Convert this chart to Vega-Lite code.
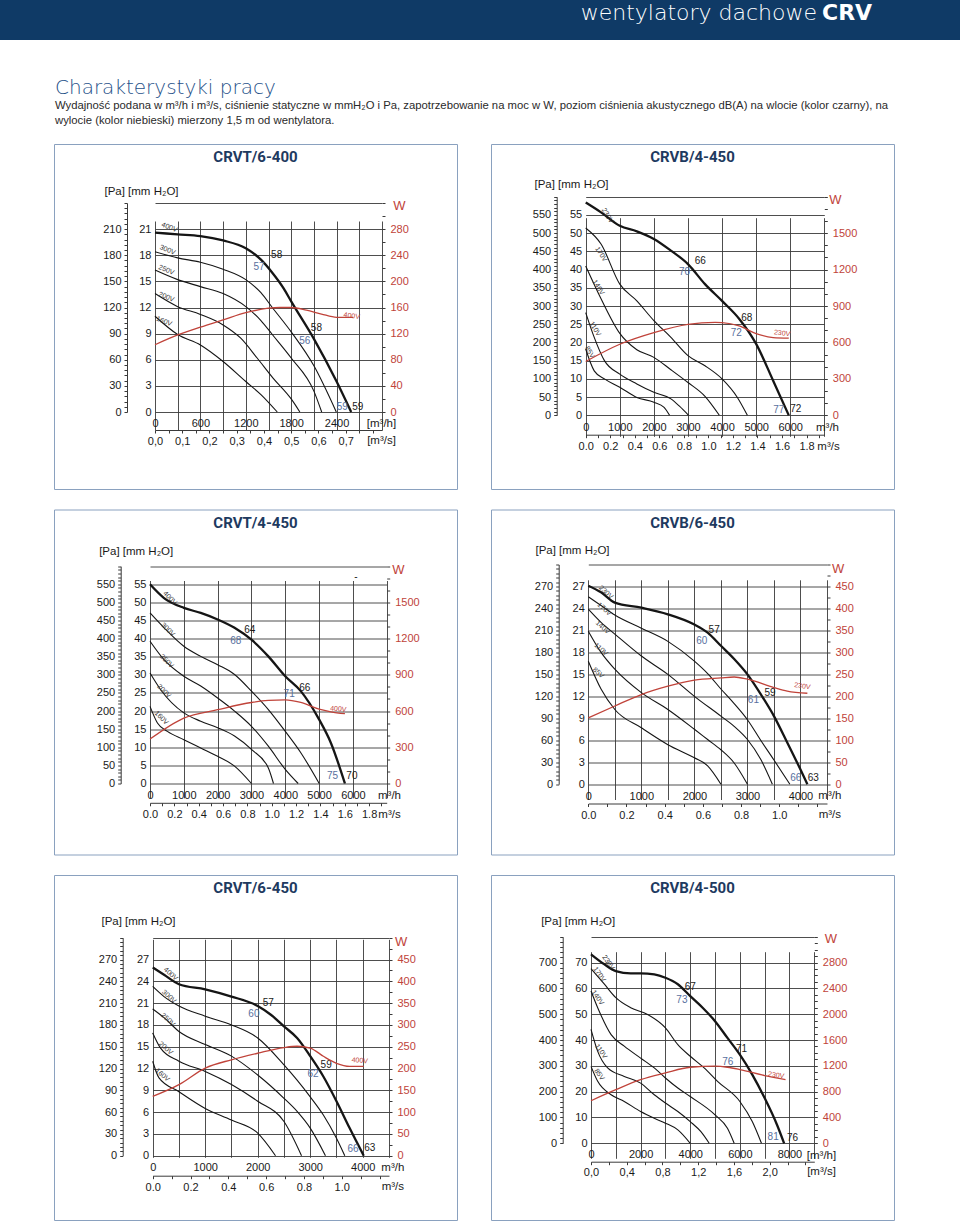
{
"$schema": "https://vega.github.io/schema/vega-lite/v6.json",
"padding": 0,
"background": "white",
"spacing": 0,
"datasets": {
"c1": [
{"q":0,"p":206,"v":"400V"},{"q":300,"p":204,"v":"400V"},{"q":600,"p":202,"v":"400V"},{"q":900,"p":197,"v":"400V"},{"q":1200,"p":188,"v":"400V"},{"q":1400,"p":175,"v":"400V"},{"q":1550,"p":160,"v":"400V"},{"q":1700,"p":142,"v":"400V"},{"q":1800,"p":127,"v":"400V"},{"q":2100,"p":84,"v":"400V"},{"q":2400,"p":35,"v":"400V"},{"q":2593,"p":0,"v":"400V"},
{"q":0,"p":184,"v":"300V"},{"q":300,"p":177,"v":"300V"},{"q":600,"p":172,"v":"300V"},{"q":900,"p":164,"v":"300V"},{"q":1200,"p":152,"v":"300V"},{"q":1400,"p":137,"v":"300V"},{"q":1550,"p":120,"v":"300V"},{"q":1800,"p":92,"v":"300V"},{"q":2100,"p":53,"v":"300V"},{"q":2396,"p":0,"v":"300V"},
{"q":0,"p":163,"v":"250V"},{"q":300,"p":152,"v":"250V"},{"q":600,"p":144,"v":"250V"},{"q":900,"p":136,"v":"250V"},{"q":1200,"p":121,"v":"250V"},{"q":1400,"p":105,"v":"250V"},{"q":1550,"p":89,"v":"250V"},{"q":1800,"p":62,"v":"250V"},{"q":2100,"p":24,"v":"250V"},{"q":2203,"p":0,"v":"250V"},
{"q":0,"p":136,"v":"200V"},{"q":300,"p":121,"v":"200V"},{"q":600,"p":112,"v":"200V"},{"q":900,"p":100,"v":"200V"},{"q":1130,"p":85,"v":"200V"},{"q":1350,"p":62,"v":"200V"},{"q":1560,"p":39,"v":"200V"},{"q":1800,"p":15,"v":"200V"},{"q":1914,"p":0,"v":"200V"},
{"q":0,"p":110,"v":"160V"},{"q":300,"p":89,"v":"160V"},{"q":600,"p":77,"v":"160V"},{"q":900,"p":58,"v":"160V"},{"q":1200,"p":35,"v":"160V"},{"q":1400,"p":20,"v":"160V"},{"q":1616,"p":0,"v":"160V"}
],
"w1": [{"q":0,"w":103},{"q":300,"w":118},{"q":600,"w":130},{"q":900,"w":141},{"q":1200,"w":152},{"q":1500,"w":159},{"q":1650,"w":160},{"q":1800,"w":160},{"q":2000,"w":156},{"q":2200,"w":150},{"q":2400,"w":145},{"q":2620,"w":145}],
"v1": [{"q":190,"p":212,"t":"400V"},{"q":165,"p":186,"t":"300V"},{"q":150,"p":163,"t":"250V"},{"q":150,"p":132,"t":"200V"},{"q":120,"p":104,"t":"160V"}],
"l1": [{"q":1608,"p":180,"t":"58","k":"in"},{"q":1375,"p":166,"t":"57","k":"out"},{"q":2133,"p":97,"t":"58","k":"in"},{"q":1980,"p":82,"t":"56","k":"out"},{"q":2475,"p":6,"t":"59","k":"out"},{"q":2680,"p":6,"t":"59","k":"in"}],
"r1": [{"q":2600,"w":147,"t":"400V"}],
"c2": [
{"q":0,"p":584,"v":"230V"},{"q":450,"p":557,"v":"230V"},{"q":1000,"p":520,"v":"230V"},{"q":1500,"p":505,"v":"230V"},{"q":2000,"p":484,"v":"230V"},{"q":2500,"p":452,"v":"230V"},{"q":3000,"p":415,"v":"230V"},{"q":3500,"p":360,"v":"230V"},{"q":4000,"p":314,"v":"230V"},{"q":4500,"p":265,"v":"230V"},{"q":5000,"p":196,"v":"230V"},{"q":5500,"p":95,"v":"230V"},{"q":5958,"p":0,"v":"230V"},
{"q":0,"p":514,"v":"170V"},{"q":450,"p":470,"v":"170V"},{"q":1000,"p":360,"v":"170V"},{"q":1500,"p":314,"v":"170V"},{"q":2000,"p":260,"v":"170V"},{"q":2500,"p":214,"v":"170V"},{"q":3000,"p":164,"v":"170V"},{"q":3500,"p":136,"v":"170V"},{"q":4000,"p":100,"v":"170V"},{"q":4450,"p":49,"v":"170V"},{"q":4743,"p":0,"v":"170V"},
{"q":0,"p":410,"v":"140V"},{"q":450,"p":320,"v":"140V"},{"q":1000,"p":225,"v":"140V"},{"q":1500,"p":180,"v":"140V"},{"q":2000,"p":159,"v":"140V"},{"q":2500,"p":125,"v":"140V"},{"q":3000,"p":90,"v":"140V"},{"q":3500,"p":52,"v":"140V"},{"q":3920,"p":0,"v":"140V"},
{"q":0,"p":282,"v":"110V"},{"q":250,"p":214,"v":"110V"},{"q":550,"p":150,"v":"110V"},{"q":1000,"p":113,"v":"110V"},{"q":1500,"p":86,"v":"110V"},{"q":2000,"p":63,"v":"110V"},{"q":2500,"p":45,"v":"110V"},{"q":2750,"p":25,"v":"110V"},{"q":3018,"p":0,"v":"110V"},
{"q":0,"p":182,"v":"85V"},{"q":250,"p":122,"v":"85V"},{"q":550,"p":100,"v":"85V"},{"q":1000,"p":77,"v":"85V"},{"q":1500,"p":49,"v":"85V"},{"q":2000,"p":36,"v":"85V"},{"q":2300,"p":22,"v":"85V"},{"q":2460,"p":0,"v":"85V"}
],
"w2": [{"q":0,"w":443},{"q":1000,"w":585},{"q":2000,"w":681},{"q":3000,"w":749},{"q":3800,"w":765},{"q":4000,"w":763},{"q":4500,"w":736},{"q":5000,"w":673},{"q":5500,"w":640},{"q":5958,"w":635}],
"v2": [{"q":640,"p":548,"t":"230V"},{"q":451,"p":442,"t":"170V"},{"q":372,"p":351,"t":"140V"},{"q":274,"p":237,"t":"110V"},{"q":118,"p":173,"t":"85V"}],
"l2": [{"q":3361,"p":424,"t":"66","k":"in"},{"q":2901,"p":392,"t":"70","k":"out"},{"q":4724,"p":266,"t":"68","k":"in"},{"q":4420,"p":225,"t":"72","k":"out"},{"q":5664,"p":15,"t":"77","k":"out"},{"q":6164,"p":16,"t":"72","k":"in"}],
"r2": [{"q":5762,"w":675,"t":"230V"}],
"c3": [
{"q":0,"p":550,"v":"400V"},{"q":415,"p":512,"v":"400V"},{"q":1000,"p":485,"v":"400V"},{"q":1500,"p":471,"v":"400V"},{"q":2000,"p":453,"v":"400V"},{"q":2500,"p":430,"v":"400V"},{"q":3000,"p":397,"v":"400V"},{"q":3500,"p":351,"v":"400V"},{"q":4000,"p":296,"v":"400V"},{"q":4460,"p":255,"v":"400V"},{"q":5000,"p":177,"v":"400V"},{"q":5350,"p":112,"v":"400V"},{"q":5764,"p":0,"v":"400V"},
{"q":0,"p":471,"v":"300V"},{"q":415,"p":430,"v":"300V"},{"q":1000,"p":379,"v":"300V"},{"q":1500,"p":351,"v":"300V"},{"q":2000,"p":328,"v":"300V"},{"q":2500,"p":301,"v":"300V"},{"q":3000,"p":255,"v":"300V"},{"q":3500,"p":204,"v":"300V"},{"q":4000,"p":144,"v":"300V"},{"q":4460,"p":85,"v":"300V"},{"q":5004,"p":0,"v":"300V"},
{"q":0,"p":393,"v":"250V"},{"q":415,"p":342,"v":"250V"},{"q":1000,"p":296,"v":"250V"},{"q":1500,"p":269,"v":"250V"},{"q":2000,"p":236,"v":"250V"},{"q":2500,"p":200,"v":"250V"},{"q":3000,"p":158,"v":"250V"},{"q":3500,"p":103,"v":"250V"},{"q":4000,"p":39,"v":"250V"},{"q":4382,"p":0,"v":"250V"},
{"q":0,"p":305,"v":"200V"},{"q":315,"p":259,"v":"200V"},{"q":1000,"p":195,"v":"200V"},{"q":1500,"p":172,"v":"200V"},{"q":2000,"p":154,"v":"200V"},{"q":2500,"p":131,"v":"200V"},{"q":3000,"p":94,"v":"200V"},{"q":3500,"p":43,"v":"200V"},{"q":3652,"p":0,"v":"200V"},
{"q":0,"p":213,"v":"160V"},{"q":220,"p":167,"v":"160V"},{"q":515,"p":144,"v":"160V"},{"q":1000,"p":121,"v":"160V"},{"q":1500,"p":98,"v":"160V"},{"q":2000,"p":75,"v":"160V"},{"q":2500,"p":48,"v":"160V"},{"q":3000,"p":0,"v":"160V"}
],
"w3": [{"q":0,"w":368},{"q":1000,"w":542},{"q":2000,"w":611},{"q":3000,"w":671},{"q":3500,"w":688},{"q":4000,"w":693},{"q":4460,"w":671},{"q":5000,"w":616},{"q":5350,"w":594},{"q":5764,"w":578}],
"v3": [{"q":592,"p":512,"t":"400V"},{"q":533,"p":425,"t":"300V"},{"q":494,"p":338,"t":"250V"},{"q":415,"p":255,"t":"200V"},{"q":336,"p":181,"t":"160V"}],
"l3": [{"q":2951,"p":423,"t":"64","k":"in"},{"q":2537,"p":393,"t":"68","k":"out"},{"q":4580,"p":264,"t":"66","k":"in"},{"q":4116,"p":247,"t":"71","k":"out"},{"q":5399,"p":20,"t":"75","k":"out"},{"q":5971,"p":20,"t":"70","k":"in"},{"q":6090,"p":569,"t":"-","k":"in"}],
"r3": [{"q":5567,"w":616,"t":"400V"}],
"c4": [
{"q":0,"p":271,"v":"230V"},{"q":240,"p":262,"v":"230V"},{"q":500,"p":248,"v":"230V"},{"q":1000,"p":241,"v":"230V"},{"q":1500,"p":232,"v":"230V"},{"q":2000,"p":218,"v":"230V"},{"q":2250,"p":207,"v":"230V"},{"q":2500,"p":189,"v":"230V"},{"q":2750,"p":171,"v":"230V"},{"q":3000,"p":150,"v":"230V"},{"q":3250,"p":123,"v":"230V"},{"q":3500,"p":93,"v":"230V"},{"q":3750,"p":57,"v":"230V"},{"q":4000,"p":20,"v":"230V"},{"q":4130,"p":0,"v":"230V"},
{"q":0,"p":256,"v":"170V"},{"q":240,"p":244,"v":"170V"},{"q":500,"p":231,"v":"170V"},{"q":1000,"p":213,"v":"170V"},{"q":1500,"p":195,"v":"170V"},{"q":2000,"p":168,"v":"170V"},{"q":2250,"p":151,"v":"170V"},{"q":2500,"p":130,"v":"170V"},{"q":2750,"p":110,"v":"170V"},{"q":3000,"p":88,"v":"170V"},{"q":3250,"p":60,"v":"170V"},{"q":3500,"p":33,"v":"170V"},{"q":3800,"p":0,"v":"170V"},
{"q":0,"p":239,"v":"140V"},{"q":240,"p":221,"v":"140V"},{"q":500,"p":205,"v":"140V"},{"q":1000,"p":175,"v":"140V"},{"q":1500,"p":150,"v":"140V"},{"q":2000,"p":120,"v":"140V"},{"q":2500,"p":93,"v":"140V"},{"q":2750,"p":79,"v":"140V"},{"q":3000,"p":61,"v":"140V"},{"q":3250,"p":34,"v":"140V"},{"q":3470,"p":0,"v":"140V"},
{"q":0,"p":209,"v":"110V"},{"q":240,"p":180,"v":"110V"},{"q":500,"p":157,"v":"110V"},{"q":1000,"p":125,"v":"110V"},{"q":1500,"p":102,"v":"110V"},{"q":2000,"p":75,"v":"110V"},{"q":2250,"p":61,"v":"110V"},{"q":2500,"p":47,"v":"110V"},{"q":2750,"p":29,"v":"110V"},{"q":3000,"p":0,"v":"110V"},
{"q":0,"p":168,"v":"85V"},{"q":240,"p":130,"v":"85V"},{"q":500,"p":102,"v":"85V"},{"q":1000,"p":77,"v":"85V"},{"q":1500,"p":54,"v":"85V"},{"q":2000,"p":36,"v":"85V"},{"q":2250,"p":25,"v":"85V"},{"q":2500,"p":0,"v":"85V"}
],
"w4": [{"q":0,"w":151},{"q":500,"w":178},{"q":1000,"w":204},{"q":1500,"w":223},{"q":2000,"w":237},{"q":2500,"w":242},{"q":2750,"w":244},{"q":3000,"w":239},{"q":3500,"w":220},{"q":3750,"w":212},{"q":4130,"w":207}],
"v4": [{"q":333,"p":262,"t":"230V"},{"q":301,"p":239,"t":"170V"},{"q":270,"p":214,"t":"140V"},{"q":239,"p":184,"t":"110V"},{"q":188,"p":152,"t":"85V"}],
"l4": [{"q":2373,"p":211,"t":"57","k":"in"},{"q":2140,"p":196,"t":"60","k":"out"},{"q":3427,"p":125,"t":"59","k":"in"},{"q":3113,"p":115,"t":"61","k":"out"},{"q":3910,"p":9,"t":"66","k":"out"},{"q":4243,"p":9,"t":"63","k":"in"}],
"r4": [{"q":4036,"w":223,"t":"230V"}],
"c5": [
{"q":0,"p":259,"v":"400V"},{"q":216,"p":249,"v":"400V"},{"q":500,"p":236,"v":"400V"},{"q":1000,"p":229,"v":"400V"},{"q":1500,"p":219,"v":"400V"},{"q":2000,"p":206,"v":"400V"},{"q":2250,"p":194,"v":"400V"},{"q":2500,"p":178,"v":"400V"},{"q":2750,"p":162,"v":"400V"},{"q":3000,"p":137,"v":"400V"},{"q":3250,"p":109,"v":"400V"},{"q":3500,"p":75,"v":"400V"},{"q":3750,"p":38,"v":"400V"},{"q":4019,"p":0,"v":"400V"},
{"q":0,"p":233,"v":"300V"},{"q":216,"p":219,"v":"300V"},{"q":500,"p":206,"v":"300V"},{"q":1000,"p":192,"v":"300V"},{"q":1500,"p":180,"v":"300V"},{"q":2000,"p":162,"v":"300V"},{"q":2500,"p":125,"v":"300V"},{"q":2750,"p":104,"v":"300V"},{"q":3000,"p":81,"v":"300V"},{"q":3250,"p":56,"v":"300V"},{"q":3500,"p":24,"v":"300V"},{"q":3658,"p":0,"v":"300V"},
{"q":0,"p":202,"v":"250V"},{"q":216,"p":190,"v":"250V"},{"q":500,"p":171,"v":"250V"},{"q":1000,"p":153,"v":"250V"},{"q":1500,"p":137,"v":"250V"},{"q":2000,"p":111,"v":"250V"},{"q":2500,"p":79,"v":"250V"},{"q":2750,"p":61,"v":"250V"},{"q":3000,"p":38,"v":"250V"},{"q":3290,"p":0,"v":"250V"},
{"q":0,"p":169,"v":"200V"},{"q":150,"p":148,"v":"200V"},{"q":500,"p":130,"v":"200V"},{"q":1000,"p":116,"v":"200V"},{"q":1500,"p":98,"v":"200V"},{"q":2000,"p":75,"v":"200V"},{"q":2500,"p":47,"v":"200V"},{"q":2834,"p":0,"v":"200V"},
{"q":0,"p":130,"v":"160V"},{"q":120,"p":107,"v":"160V"},{"q":500,"p":88,"v":"160V"},{"q":1000,"p":65,"v":"160V"},{"q":1500,"p":49,"v":"160V"},{"q":2000,"p":31,"v":"160V"},{"q":2339,"p":0,"v":"160V"}
],
"w5": [{"q":0,"w":136},{"q":500,"w":163},{"q":1000,"w":201},{"q":1500,"w":220},{"q":2000,"w":235},{"q":2500,"w":248},{"q":2750,"w":251},{"q":3000,"w":247},{"q":3250,"w":228},{"q":3500,"w":212},{"q":3750,"w":205},{"q":4019,"w":205}],
"v5": [{"q":342,"p":250,"t":"400V"},{"q":311,"p":219,"t":"300V"},{"q":292,"p":187,"t":"250V"},{"q":247,"p":148,"t":"200V"},{"q":184,"p":111,"t":"160V"}],
"l5": [{"q":2200,"p":210,"t":"57","k":"in"},{"q":1927,"p":195,"t":"60","k":"out"},{"q":3303,"p":125,"t":"59","k":"in"},{"q":3055,"p":112,"t":"62","k":"out"},{"q":3816,"p":9,"t":"66","k":"out"},{"q":4133,"p":10,"t":"63","k":"in"}],
"r5": [{"q":3943,"w":218,"t":"400V"}],
"c6": [
{"q":0,"p":732,"v":"230V"},{"q":540,"p":693,"v":"230V"},{"q":1000,"p":667,"v":"230V"},{"q":1600,"p":658,"v":"230V"},{"q":2000,"p":658,"v":"230V"},{"q":2550,"p":654,"v":"230V"},{"q":3000,"p":641,"v":"230V"},{"q":3500,"p":616,"v":"230V"},{"q":4000,"p":570,"v":"230V"},{"q":4500,"p":525,"v":"230V"},{"q":5000,"p":473,"v":"230V"},{"q":5500,"p":408,"v":"230V"},{"q":6000,"p":343,"v":"230V"},{"q":6500,"p":266,"v":"230V"},{"q":7000,"p":175,"v":"230V"},{"q":7500,"p":71,"v":"230V"},{"q":7784,"p":0,"v":"230V"},
{"q":0,"p":676,"v":"170V"},{"q":540,"p":616,"v":"170V"},{"q":1000,"p":564,"v":"170V"},{"q":1600,"p":525,"v":"170V"},{"q":2280,"p":499,"v":"170V"},{"q":3000,"p":447,"v":"170V"},{"q":3500,"p":382,"v":"170V"},{"q":4000,"p":337,"v":"170V"},{"q":4560,"p":292,"v":"170V"},{"q":5100,"p":240,"v":"170V"},{"q":6000,"p":162,"v":"170V"},{"q":6500,"p":84,"v":"170V"},{"q":6870,"p":0,"v":"170V"},
{"q":0,"p":590,"v":"140V"},{"q":270,"p":525,"v":"140V"},{"q":810,"p":421,"v":"140V"},{"q":1340,"p":376,"v":"140V"},{"q":2000,"p":330,"v":"140V"},{"q":2550,"p":292,"v":"140V"},{"q":3000,"p":253,"v":"140V"},{"q":3500,"p":214,"v":"140V"},{"q":4000,"p":181,"v":"140V"},{"q":5000,"p":110,"v":"140V"},{"q":5500,"p":58,"v":"140V"},{"q":5770,"p":0,"v":"140V"},
{"q":0,"p":441,"v":"110V"},{"q":270,"p":356,"v":"110V"},{"q":670,"p":292,"v":"110V"},{"q":1340,"p":259,"v":"110V"},{"q":2000,"p":233,"v":"110V"},{"q":2550,"p":188,"v":"110V"},{"q":3000,"p":156,"v":"110V"},{"q":3500,"p":123,"v":"110V"},{"q":4000,"p":84,"v":"110V"},{"q":4430,"p":45,"v":"110V"},{"q":4764,"p":0,"v":"110V"},
{"q":0,"p":298,"v":"85V"},{"q":270,"p":240,"v":"85V"},{"q":810,"p":188,"v":"85V"},{"q":1340,"p":162,"v":"85V"},{"q":2000,"p":123,"v":"85V"},{"q":2550,"p":97,"v":"85V"},{"q":3000,"p":78,"v":"85V"},{"q":3500,"p":52,"v":"85V"},{"q":4000,"p":0,"v":"85V"}
],
"w6": [{"q":0,"w":659},{"q":1000,"w":830},{"q":2000,"w":986},{"q":3000,"w":1090},{"q":4000,"w":1178},{"q":5000,"w":1194},{"q":5500,"w":1178},{"q":6000,"w":1142},{"q":7000,"w":1048},{"q":7840,"w":986}],
"v6": [{"q":698,"p":700,"t":"230V"},{"q":336,"p":654,"t":"170V"},{"q":268,"p":564,"t":"140V"},{"q":403,"p":356,"t":"110V"},{"q":336,"p":266,"t":"85V"}],
"l6": [{"q":4000,"p":605,"t":"67","k":"in"},{"q":3664,"p":555,"t":"73","k":"out"},{"q":6066,"p":365,"t":"71","k":"in"},{"q":5516,"p":315,"t":"76","k":"out"},{"q":7341,"p":23,"t":"81","k":"out"},{"q":8119,"p":19,"t":"76","k":"in"}],
"r6": [{"q":7462,"w":1054,"t":"230V"}]
},
"vconcat": [
{"hconcat": [
  {"width": 820, "height": 40, "view": {"fill": "#0f3a66", "stroke": null},
   "title": {"text": "wentylatory dachowe", "anchor": "end", "dx": -3, "dy": 28.5, "font": "DejaVu Sans", "fontSize": 22, "fontWeight": 300, "color": "#ffffff"},
   "data": {"values": [{}]}, "mark": {"type": "point", "opacity": 0}},
  {"width": 140, "height": 40, "view": {"fill": "#0f3a66", "stroke": null},
   "title": {"text": "CRV", "anchor": "start", "dx": 2, "dy": 28.5, "font": "DejaVu Sans", "fontSize": 22, "fontWeight": "bold", "color": "#ffffff"},
   "data": {"values": [{}]}, "mark": {"type": "point", "opacity": 0}}
 ], "spacing": 0},
{"width": 960, "height": 102.5,
 "title": {"text": "Charakterystyki pracy", "subtitle": ["Wydajność podana w m³/h i m³/s, ciśnienie statyczne w mmH₂O i Pa, zapotrzebowanie na  moc w W, poziom ciśnienia akustycznego dB(A) na wlocie (kolor czarny), na", "wylocie (kolor niebieski) mierzony 1,5 m od wentylatora."],
   "anchor": "start", "dx": 55, "dy": 90.6, "font": "DejaVu Sans", "fontSize": 20, "fontWeight": 300, "color": "#1f5189",
   "subtitleFont": "Liberation Sans", "subtitleFontSize": 11.3, "subtitleColor": "#2a2a2a", "subtitleLineHeight": 15.5, "subtitlePadding": 1.9},
 "data": {"values": [{}]}, "mark": {"type": "point", "opacity": 0}},
{"vconcat": [
 {"hconcat": [
  {"width": 21, "height": 345, "data": {"values": [{}]}, "mark": {"type": "point", "opacity": 0}},
  {"width": 403, "height": 345, "view": {"stroke": "#8aa1bf"},
   "title": {"text": "CRVT/6-400", "dy": 25},
   "resolve": {"scale": {"y": "independent"}, "axis": {"x": "independent", "y": "independent"}},
   "layer": [
    {"data": {"name": "c1"}, "mark": {"type": "line", "interpolate": "monotone", "color": "#151515"},
     "encoding": {
      "x": {"field": "q", "type": "quantitative", "scale": {"domain": [0, 3000], "range": [101, 328], "nice": false, "zero": false},
        "axis": {"orient": "bottom", "offset": -77, "grid": true, "values": [0,300,600,900,1200,1500,1800,2100,2400,2700,3000], "labelExpr": "datum.value % 600 == 0 && datum.value <= 2400 ? format(datum.value, 'd') : ''", "title": "[m³/h]", "titleX": 327, "titleY": 11.5, "labelPadding": 5}},
      "y": {"field": "p", "type": "quantitative", "scale": {"domain": [0, 240], "range": [268, 59], "nice": false, "zero": false},
        "axis": {"orient": "left", "offset": -101, "grid": true, "values": [0,30,60,90,120,150,180,210,240], "labelExpr": "datum.value <= 210 ? format(datum.value / 10, 'd') : ''", "title": null}},
      "detail": {"field": "v"},
      "strokeWidth": {"condition": {"test": "datum.v == '400V'", "value": 2.3}, "value": 1.1}}},
    {"data": {"name": "v1"}, "mark": {"type": "text", "fontSize": 7, "angle": 22, "color": "#333"},
     "encoding": {
      "x": {"field": "q", "type": "quantitative", "scale": {"domain": [0, 3000], "range": [101, 328], "nice": false, "zero": false},
        "axis": {"orient": "bottom", "offset": -59, "domain": true, "ticks": true, "values": [0,180,360,540,720,900,1080,1260,1440,1620,1800,1980,2160,2340,2520,2700,2880], "labelExpr": "datum.value % 360 == 0 && datum.value <= 2520 ? replace(format(datum.value / 3600, '.1f'), '.', ',') : ''", "labelPadding": 2, "title": "[m³/s]", "titleX": 327, "titleY": 10}},
      "y": {"field": "p", "type": "quantitative", "scale": {"domain": [0, 240], "range": [268, 59], "nice": false, "zero": false},
        "axis": {"orient": "left", "offset": -73, "domain": true, "ticks": true, "values": [0,6,12,18,24,30,36,42,48,54,60,66,72,78,84,90,96,102,108,114,120,126,132,138,144,150,156,162,168,174,180,186,192,198,204,210,216,222,228,234,240], "labelExpr": "datum.value % 30 == 0 && datum.value <= 210 ? format(datum.value, 'd') : ''", "labelPadding": 3, "title": "[Pa] [mm H₂O]", "titleX": 14, "titleY": 47}},
      "text": {"field": "t"}}},
    {"data": {"name": "l1"}, "mark": {"type": "text", "fontSize": 10},
     "encoding": {
      "x": {"field": "q", "type": "quantitative", "scale": {"domain": [0, 3000], "range": [101, 328], "nice": false, "zero": false}, "axis": null},
      "y": {"field": "p", "type": "quantitative", "scale": {"domain": [0, 240], "range": [268, 59], "nice": false, "zero": false}, "axis": null},
      "text": {"field": "t"},
      "color": {"field": "k", "type": "nominal", "scale": {"domain": ["in", "out"], "range": ["#1a1a1a", "#58709e"]}, "legend": null}}},
    {"data": {"name": "w1"}, "mark": {"type": "line", "interpolate": "monotone", "color": "#c0433a", "strokeWidth": 1.3},
     "encoding": {
      "x": {"field": "q", "type": "quantitative", "scale": {"domain": [0, 3000], "range": [101, 328], "nice": false, "zero": false}, "axis": null},
      "y": {"field": "w", "type": "quantitative", "scale": {"domain": [0, 320], "range": [268, 59], "nice": false, "zero": false},
        "axis": {"orient": "right", "offset": -75, "ticks": true, "values": [0,20,40,60,80,100,120,140,160,180,200,220,240,260,280,300,320], "labelExpr": "datum.value % 40 == 0 && datum.value <= 280 ? format(datum.value, 'd') : ''", "labelColor": "#c0433a", "labelPadding": 5, "title": "W", "titleX": 17, "titleY": 61, "titleColor": "#c0433a", "titleFontSize": 13}}}},
    {"data": {"name": "r1"}, "mark": {"type": "text", "fontSize": 7, "angle": 8, "color": "#c0433a"},
     "encoding": {
      "x": {"field": "q", "type": "quantitative", "scale": {"domain": [0, 3000], "range": [101, 328], "nice": false, "zero": false}, "axis": null},
      "y": {"field": "w", "type": "quantitative", "scale": {"domain": [0, 320], "range": [268, 59], "nice": false, "zero": false}, "axis": null},
      "text": {"field": "t"}}}
   ]},
  {"width": 403, "height": 345, "view": {"stroke": "#8aa1bf"},
   "title": {"text": "CRVB/4-450", "dy": 25},
   "resolve": {"scale": {"y": "independent"}, "axis": {"x": "independent", "y": "independent"}},
   "layer": [
    {"data": {"name": "c2"}, "mark": {"type": "line", "interpolate": "monotone", "color": "#151515"},
     "encoding": {
      "x": {"field": "q", "type": "quantitative", "scale": {"domain": [0, 7000], "range": [94.7, 333.3], "nice": false, "zero": false},
        "axis": {"orient": "bottom", "offset": -73.7, "grid": true, "values": [0,1000,2000,3000,4000,5000,6000,7000], "labelExpr": "datum.value <= 6000 ? format(datum.value, 'd') : ''", "title": "m³/h", "titleX": 336, "titleY": 12, "labelPadding": 6.5}},
      "y": {"field": "p", "type": "quantitative", "scale": {"domain": [0, 600], "range": [271.3, 52.7], "nice": false, "zero": false},
        "axis": {"orient": "left", "offset": -94.7, "grid": true, "values": [0,50,100,150,200,250,300,350,400,450,500,550,600], "labelExpr": "datum.value <= 550 ? format(datum.value / 10, 'd') : ''", "title": null}},
      "detail": {"field": "v"},
      "strokeWidth": {"condition": {"test": "datum.v == '230V'", "value": 2.3}, "value": 1.1}}},
    {"data": {"name": "v2"}, "mark": {"type": "text", "fontSize": 7, "angle": 58, "color": "#333"},
     "encoding": {
      "x": {"field": "q", "type": "quantitative", "scale": {"domain": [0, 7000], "range": [94.7, 333.3], "nice": false, "zero": false},
        "axis": {"orient": "bottom", "offset": -54.3, "domain": true, "ticks": true, "values": [0,360,720,1080,1440,1800,2160,2520,2880,3240,3600,3960,4320,4680,5040,5400,5760,6120,6480,6840], "labelExpr": "datum.value % 720 == 0 && datum.value <= 6480 ? format(datum.value / 3600, '.1f') : ''", "labelPadding": 3, "title": "m³/s", "titleX": 337, "titleY": 12}},
      "y": {"field": "p", "type": "quantitative", "scale": {"domain": [0, 600], "range": [271.3, 52.7], "nice": false, "zero": false},
        "axis": {"orient": "left", "offset": -65.7, "domain": true, "ticks": true, "values": [0,10,20,30,40,50,60,70,80,90,100,110,120,130,140,150,160,170,180,190,200,210,220,230,240,250,260,270,280,290,300,310,320,330,340,350,360,370,380,390,400,410,420,430,440,450,460,470,480,490,500,510,520,530,540,550,560,570,580,590,600], "labelExpr": "datum.value % 50 == 0 && datum.value <= 550 ? format(datum.value, 'd') : ''", "labelPadding": 3, "title": "[Pa] [mm H₂O]", "titleX": 14.3, "titleY": 40}},
      "text": {"field": "t"}}},
    {"data": {"name": "l2"}, "mark": {"type": "text", "fontSize": 10},
     "encoding": {
      "x": {"field": "q", "type": "quantitative", "scale": {"domain": [0, 7000], "range": [94.7, 333.3], "nice": false, "zero": false}, "axis": null},
      "y": {"field": "p", "type": "quantitative", "scale": {"domain": [0, 600], "range": [271.3, 52.7], "nice": false, "zero": false}, "axis": null},
      "text": {"field": "t"},
      "color": {"field": "k", "type": "nominal", "scale": {"domain": ["in", "out"], "range": ["#1a1a1a", "#58709e"]}, "legend": null}}},
    {"data": {"name": "w2"}, "mark": {"type": "line", "interpolate": "monotone", "color": "#c0433a", "strokeWidth": 1.3},
     "encoding": {
      "x": {"field": "q", "type": "quantitative", "scale": {"domain": [0, 7000], "range": [94.7, 333.3], "nice": false, "zero": false}, "axis": null},
      "y": {"field": "w", "type": "quantitative", "scale": {"domain": [0, 1800], "range": [271.3, 52.7], "nice": false, "zero": false},
        "axis": {"orient": "right", "offset": -69.7, "ticks": true, "values": [0,100,200,300,400,500,600,700,800,900,1000,1100,1200,1300,1400,1500,1600,1700,1800], "labelExpr": "datum.value % 300 == 0 && datum.value <= 1500 ? format(datum.value, 'd') : ''", "labelColor": "#c0433a", "labelPadding": 5, "title": "W", "titleX": 10.7, "titleY": 55, "titleColor": "#c0433a", "titleFontSize": 13}}}},
    {"data": {"name": "r2"}, "mark": {"type": "text", "fontSize": 7, "angle": 8, "color": "#c0433a"},
     "encoding": {
      "x": {"field": "q", "type": "quantitative", "scale": {"domain": [0, 7000], "range": [94.7, 333.3], "nice": false, "zero": false}, "axis": null},
      "y": {"field": "w", "type": "quantitative", "scale": {"domain": [0, 1800], "range": [271.3, 52.7], "nice": false, "zero": false}, "axis": null},
      "text": {"field": "t"}}}
   ]}
 ], "spacing": 32},
 {"hconcat": [
  {"width": 21, "height": 345, "data": {"values": [{}]}, "mark": {"type": "point", "opacity": 0}},
  {"width": 403, "height": 345, "view": {"stroke": "#8aa1bf"},
   "title": {"text": "CRVT/4-450", "dy": 25},
   "resolve": {"scale": {"y": "independent"}, "axis": {"x": "independent", "y": "independent"}},
   "layer": [
    {"data": {"name": "c3"}, "mark": {"type": "line", "interpolate": "monotone", "color": "#151515"},
     "encoding": {
      "x": {"field": "q", "type": "quantitative", "scale": {"domain": [0, 7000], "range": [96, 332.7], "nice": false, "zero": false},
        "axis": {"orient": "bottom", "offset": -71, "grid": true, "values": [0,1000,2000,3000,4000,5000,6000,7000], "labelExpr": "datum.value <= 6000 ? format(datum.value, 'd') : ''", "title": "m³/h", "titleX": 335, "titleY": 11.7, "labelPadding": 6}},
      "y": {"field": "p", "type": "quantitative", "scale": {"domain": [0, 600], "range": [274, 56.7], "nice": false, "zero": false},
        "axis": {"orient": "left", "offset": -96, "grid": true, "values": [0,50,100,150,200,250,300,350,400,450,500,550,600], "labelExpr": "datum.value <= 550 ? format(datum.value / 10, 'd') : ''", "title": null}},
      "detail": {"field": "v"},
      "strokeWidth": {"condition": {"test": "datum.v == '400V'", "value": 2.3}, "value": 1.1}}},
    {"data": {"name": "v3"}, "mark": {"type": "text", "fontSize": 7, "angle": 45, "color": "#333"},
     "encoding": {
      "x": {"field": "q", "type": "quantitative", "scale": {"domain": [0, 7000], "range": [96, 332.7], "nice": false, "zero": false},
        "axis": {"orient": "bottom", "offset": -51.7, "domain": true, "ticks": true, "values": [0,360,720,1080,1440,1800,2160,2520,2880,3240,3600,3960,4320,4680,5040,5400,5760,6120,6480,6840], "labelExpr": "datum.value % 720 == 0 && datum.value <= 6480 ? format(datum.value / 3600, '.1f') : ''", "labelPadding": 3, "title": "m³/s", "titleX": 335, "titleY": 11.7}},
      "y": {"field": "p", "type": "quantitative", "scale": {"domain": [0, 600], "range": [274, 56.7], "nice": false, "zero": false},
        "axis": {"orient": "left", "offset": -66.7, "domain": true, "ticks": true, "values": [0,10,20,30,40,50,60,70,80,90,100,110,120,130,140,150,160,170,180,190,200,210,220,230,240,250,260,270,280,290,300,310,320,330,340,350,360,370,380,390,400,410,420,430,440,450,460,470,480,490,500,510,520,530,540,550,560,570,580,590,600], "labelExpr": "datum.value % 50 == 0 && datum.value <= 550 ? format(datum.value, 'd') : ''", "labelPadding": 3, "title": "[Pa] [mm H₂O]", "titleX": 15, "titleY": 41.7}},
      "text": {"field": "t"}}},
    {"data": {"name": "l3"}, "mark": {"type": "text", "fontSize": 10},
     "encoding": {
      "x": {"field": "q", "type": "quantitative", "scale": {"domain": [0, 7000], "range": [96, 332.7], "nice": false, "zero": false}, "axis": null},
      "y": {"field": "p", "type": "quantitative", "scale": {"domain": [0, 600], "range": [274, 56.7], "nice": false, "zero": false}, "axis": null},
      "text": {"field": "t"},
      "color": {"field": "k", "type": "nominal", "scale": {"domain": ["in", "out"], "range": ["#1a1a1a", "#58709e"]}, "legend": null}}},
    {"data": {"name": "w3"}, "mark": {"type": "line", "interpolate": "monotone", "color": "#c0433a", "strokeWidth": 1.3},
     "encoding": {
      "x": {"field": "q", "type": "quantitative", "scale": {"domain": [0, 7000], "range": [96, 332.7], "nice": false, "zero": false}, "axis": null},
      "y": {"field": "w", "type": "quantitative", "scale": {"domain": [0, 1800], "range": [274, 56.7], "nice": false, "zero": false},
        "axis": {"orient": "right", "offset": -70.3, "ticks": true, "values": [0,100,200,300,400,500,600,700,800,900,1000,1100,1200,1300,1400,1500,1600,1700,1800], "labelExpr": "datum.value % 300 == 0 && datum.value <= 1500 ? format(datum.value, 'd') : ''", "labelColor": "#c0433a", "labelPadding": 5, "title": "W", "titleX": 11.3, "titleY": 60, "titleColor": "#c0433a", "titleFontSize": 13}}}},
    {"data": {"name": "r3"}, "mark": {"type": "text", "fontSize": 7, "angle": 5, "color": "#c0433a"},
     "encoding": {
      "x": {"field": "q", "type": "quantitative", "scale": {"domain": [0, 7000], "range": [96, 332.7], "nice": false, "zero": false}, "axis": null},
      "y": {"field": "w", "type": "quantitative", "scale": {"domain": [0, 1800], "range": [274, 56.7], "nice": false, "zero": false}, "axis": null},
      "text": {"field": "t"}}}
   ]},
  {"width": 403, "height": 345, "view": {"stroke": "#8aa1bf"},
   "title": {"text": "CRVB/6-450", "dy": 25},
   "resolve": {"scale": {"y": "independent"}, "axis": {"x": "independent", "y": "independent"}},
   "layer": [
    {"data": {"name": "c4"}, "mark": {"type": "line", "interpolate": "monotone", "color": "#151515"},
     "encoding": {
      "x": {"field": "q", "type": "quantitative", "scale": {"domain": [0, 4500], "range": [97.3, 336], "nice": false, "zero": false},
        "axis": {"orient": "bottom", "offset": -70.3, "grid": true, "values": [0,500,1000,1500,2000,2500,3000,3500,4000,4500], "labelExpr": "datum.value % 1000 == 0 && datum.value <= 4000 ? format(datum.value, 'd') : ''", "title": "m³/h", "titleX": 338.3, "titleY": 11.3, "labelPadding": 6}},
      "y": {"field": "p", "type": "quantitative", "scale": {"domain": [0, 300], "range": [274.7, 55], "nice": false, "zero": false},
        "axis": {"orient": "left", "offset": -97.3, "grid": true, "values": [0,30,60,90,120,150,180,210,240,270,300], "labelExpr": "datum.value <= 270 ? format(datum.value / 10, 'd') : ''", "title": null}},
      "detail": {"field": "v"},
      "strokeWidth": {"condition": {"test": "datum.v == '230V'", "value": 2.3}, "value": 1.1}}},
    {"data": {"name": "v4"}, "mark": {"type": "text", "fontSize": 7, "angle": 42, "color": "#333"},
     "encoding": {
      "x": {"field": "q", "type": "quantitative", "scale": {"domain": [0, 4500], "range": [97.3, 336], "nice": false, "zero": false},
        "axis": {"orient": "bottom", "offset": -51, "domain": true, "ticks": true, "values": [0,360,720,1080,1440,1800,2160,2520,2880,3240,3600,3960,4320], "labelExpr": "datum.value % 720 == 0 && datum.value <= 3600 ? format(datum.value / 3600, '.1f') : ''", "labelPadding": 3, "title": "m³/s", "titleX": 338.3, "titleY": 11.3}},
      "y": {"field": "p", "type": "quantitative", "scale": {"domain": [0, 300], "range": [274.7, 55], "nice": false, "zero": false},
        "axis": {"orient": "left", "offset": -67.7, "domain": true, "ticks": true, "values": [0,6,12,18,24,30,36,42,48,54,60,66,72,78,84,90,96,102,108,114,120,126,132,138,144,150,156,162,168,174,180,186,192,198,204,210,216,222,228,234,240,246,252,258,264,270,276,282,288,294,300], "labelExpr": "datum.value % 30 == 0 && datum.value <= 270 ? format(datum.value, 'd') : ''", "labelPadding": 3, "title": "[Pa] [mm H₂O]", "titleX": 13.3, "titleY": 41.3}},
      "text": {"field": "t"}}},
    {"data": {"name": "l4"}, "mark": {"type": "text", "fontSize": 10},
     "encoding": {
      "x": {"field": "q", "type": "quantitative", "scale": {"domain": [0, 4500], "range": [97.3, 336], "nice": false, "zero": false}, "axis": null},
      "y": {"field": "p", "type": "quantitative", "scale": {"domain": [0, 300], "range": [274.7, 55], "nice": false, "zero": false}, "axis": null},
      "text": {"field": "t"},
      "color": {"field": "k", "type": "nominal", "scale": {"domain": ["in", "out"], "range": ["#1a1a1a", "#58709e"]}, "legend": null}}},
    {"data": {"name": "w4"}, "mark": {"type": "line", "interpolate": "monotone", "color": "#c0433a", "strokeWidth": 1.3},
     "encoding": {
      "x": {"field": "q", "type": "quantitative", "scale": {"domain": [0, 4500], "range": [97.3, 336], "nice": false, "zero": false}, "axis": null},
      "y": {"field": "w", "type": "quantitative", "scale": {"domain": [0, 500], "range": [274.7, 55], "nice": false, "zero": false},
        "axis": {"orient": "right", "offset": -67, "ticks": true, "values": [0,25,50,75,100,125,150,175,200,225,250,275,300,325,350,375,400,425,450,475,500], "labelExpr": "datum.value % 50 == 0 && datum.value <= 450 ? format(datum.value, 'd') : ''", "labelColor": "#c0433a", "labelPadding": 5, "title": "W", "titleX": 10.7, "titleY": 59, "titleColor": "#c0433a", "titleFontSize": 13}}}},
    {"data": {"name": "r4"}, "mark": {"type": "text", "fontSize": 7, "angle": 8, "color": "#c0433a"},
     "encoding": {
      "x": {"field": "q", "type": "quantitative", "scale": {"domain": [0, 4500], "range": [97.3, 336], "nice": false, "zero": false}, "axis": null},
      "y": {"field": "w", "type": "quantitative", "scale": {"domain": [0, 500], "range": [274.7, 55], "nice": false, "zero": false}, "axis": null},
      "text": {"field": "t"}}}
   ]}
 ], "spacing": 32},
 {"hconcat": [
  {"width": 21, "height": 345, "data": {"values": [{}]}, "mark": {"type": "point", "opacity": 0}},
  {"width": 403, "height": 345, "view": {"stroke": "#8aa1bf"},
   "title": {"text": "CRVT/6-450", "dy": 25},
   "resolve": {"scale": {"y": "independent"}, "axis": {"x": "independent", "y": "independent"}},
   "layer": [
    {"data": {"name": "c5"}, "mark": {"type": "line", "interpolate": "monotone", "color": "#151515"},
     "encoding": {
      "x": {"field": "q", "type": "quantitative", "scale": {"domain": [0, 4500], "range": [98.7, 335], "nice": false, "zero": false},
        "axis": {"orient": "bottom", "offset": -64.3, "grid": true, "values": [0,500,1000,1500,2000,2500,3000,3500,4000,4500], "labelExpr": "datum.value % 1000 == 0 && datum.value <= 4000 ? format(datum.value, 'd') : ''", "title": "m³/h", "titleX": 338.3, "titleY": 11.6, "labelPadding": 6}},
      "y": {"field": "p", "type": "quantitative", "scale": {"domain": [0, 300], "range": [280.7, 62.7], "nice": false, "zero": false},
        "axis": {"orient": "left", "offset": -98.7, "grid": true, "values": [0,30,60,90,120,150,180,210,240,270,300], "labelExpr": "datum.value <= 270 ? format(datum.value / 10, 'd') : ''", "title": null}},
      "detail": {"field": "v"},
      "strokeWidth": {"condition": {"test": "datum.v == '400V'", "value": 2.3}, "value": 1.1}}},
    {"data": {"name": "v5"}, "mark": {"type": "text", "fontSize": 7, "angle": 42, "color": "#333"},
     "encoding": {
      "x": {"field": "q", "type": "quantitative", "scale": {"domain": [0, 4500], "range": [98.7, 335], "nice": false, "zero": false},
        "axis": {"orient": "bottom", "offset": -44.3, "domain": true, "ticks": true, "values": [0,360,720,1080,1440,1800,2160,2520,2880,3240,3600,3960,4320], "labelExpr": "datum.value % 720 == 0 && datum.value <= 3600 ? format(datum.value / 3600, '.1f') : ''", "labelPadding": 3, "title": "m³/s", "titleX": 338.3, "titleY": 11}},
      "y": {"field": "p", "type": "quantitative", "scale": {"domain": [0, 300], "range": [280.7, 62.7], "nice": false, "zero": false},
        "axis": {"orient": "left", "offset": -68.7, "domain": true, "ticks": true, "values": [0,6,12,18,24,30,36,42,48,54,60,66,72,78,84,90,96,102,108,114,120,126,132,138,144,150,156,162,168,174,180,186,192,198,204,210,216,222,228,234,240,246,252,258,264,270,276,282,288,294,300], "labelExpr": "datum.value % 30 == 0 && datum.value <= 270 ? format(datum.value, 'd') : ''", "labelPadding": 3, "title": "[Pa] [mm H₂O]", "titleX": 15.3, "titleY": 46.7}},
      "text": {"field": "t"}}},
    {"data": {"name": "l5"}, "mark": {"type": "text", "fontSize": 10},
     "encoding": {
      "x": {"field": "q", "type": "quantitative", "scale": {"domain": [0, 4500], "range": [98.7, 335], "nice": false, "zero": false}, "axis": null},
      "y": {"field": "p", "type": "quantitative", "scale": {"domain": [0, 300], "range": [280.7, 62.7], "nice": false, "zero": false}, "axis": null},
      "text": {"field": "t"},
      "color": {"field": "k", "type": "nominal", "scale": {"domain": ["in", "out"], "range": ["#1a1a1a", "#58709e"]}, "legend": null}}},
    {"data": {"name": "w5"}, "mark": {"type": "line", "interpolate": "monotone", "color": "#c0433a", "strokeWidth": 1.3},
     "encoding": {
      "x": {"field": "q", "type": "quantitative", "scale": {"domain": [0, 4500], "range": [98.7, 335], "nice": false, "zero": false}, "axis": null},
      "y": {"field": "w", "type": "quantitative", "scale": {"domain": [0, 500], "range": [280.7, 62.7], "nice": false, "zero": false},
        "axis": {"orient": "right", "offset": -68, "ticks": true, "values": [0,25,50,75,100,125,150,175,200,225,250,275,300,325,350,375,400,425,450,475,500], "labelExpr": "datum.value % 50 == 0 && datum.value <= 450 ? format(datum.value, 'd') : ''", "labelColor": "#c0433a", "labelPadding": 5, "title": "W", "titleX": 11.7, "titleY": 66.7, "titleColor": "#c0433a", "titleFontSize": 13}}}},
    {"data": {"name": "r5"}, "mark": {"type": "text", "fontSize": 7, "angle": 5, "color": "#c0433a"},
     "encoding": {
      "x": {"field": "q", "type": "quantitative", "scale": {"domain": [0, 4500], "range": [98.7, 335], "nice": false, "zero": false}, "axis": null},
      "y": {"field": "w", "type": "quantitative", "scale": {"domain": [0, 500], "range": [280.7, 62.7], "nice": false, "zero": false}, "axis": null},
      "text": {"field": "t"}}}
   ]},
  {"width": 403, "height": 345, "view": {"stroke": "#8aa1bf"},
   "title": {"text": "CRVB/4-500", "dy": 25},
   "resolve": {"scale": {"y": "independent"}, "axis": {"x": "independent", "y": "independent"}},
   "layer": [
    {"data": {"name": "c6"}, "mark": {"type": "line", "interpolate": "monotone", "color": "#151515"},
     "encoding": {
      "x": {"field": "q", "type": "quantitative", "scale": {"domain": [0, 9000], "range": [100, 323.3], "nice": false, "zero": false},
        "axis": {"orient": "bottom", "offset": -76.7, "grid": true, "values": [0,1000,2000,3000,4000,5000,6000,7000,8000,9000], "labelExpr": "datum.value % 2000 == 0 && datum.value <= 8000 ? format(datum.value, 'd') : ''", "title": "[m³/h]", "titleX": 330, "titleY": 12.5, "labelPadding": 5}},
      "y": {"field": "p", "type": "quantitative", "scale": {"domain": [0, 800], "range": [268.3, 61.7], "nice": false, "zero": false},
        "axis": {"orient": "left", "offset": -100, "grid": true, "values": [0,100,200,300,400,500,600,700,800], "labelExpr": "datum.value <= 700 ? format(datum.value / 10, 'd') : ''", "title": null}},
      "detail": {"field": "v"},
      "strokeWidth": {"condition": {"test": "datum.v == '230V'", "value": 2.3}, "value": 1.1}}},
    {"data": {"name": "v6"}, "mark": {"type": "text", "fontSize": 7, "angle": 55, "color": "#333"},
     "encoding": {
      "x": {"field": "q", "type": "quantitative", "scale": {"domain": [0, 9000], "range": [100, 323.3], "nice": false, "zero": false},
        "axis": {"orient": "bottom", "offset": -58.3, "domain": true, "ticks": true, "values": [0,720,1440,2160,2880,3600,4320,5040,5760,6480,7200,7920,8640], "labelExpr": "datum.value % 1440 == 0 && datum.value <= 7200 ? replace(format(datum.value / 3600, '.1f'), '.', ',') : ''", "labelPadding": 2, "title": "[m³/s]", "titleX": 330, "titleY": 10}},
      "y": {"field": "p", "type": "quantitative", "scale": {"domain": [0, 800], "range": [268.3, 61.7], "nice": false, "zero": false},
        "axis": {"orient": "left", "offset": -71.7, "domain": true, "ticks": true, "values": [0,20,40,60,80,100,120,140,160,180,200,220,240,260,280,300,320,340,360,380,400,420,440,460,480,500,520,540,560,580,600,620,640,660,680,700,720,740,760,780,800], "labelExpr": "datum.value % 100 == 0 && datum.value <= 700 ? format(datum.value, 'd') : ''", "labelPadding": 3, "title": "[Pa] [mm H₂O]", "titleX": 15, "titleY": 46.7}},
      "text": {"field": "t"}}},
    {"data": {"name": "l6"}, "mark": {"type": "text", "fontSize": 10},
     "encoding": {
      "x": {"field": "q", "type": "quantitative", "scale": {"domain": [0, 9000], "range": [100, 323.3], "nice": false, "zero": false}, "axis": null},
      "y": {"field": "p", "type": "quantitative", "scale": {"domain": [0, 800], "range": [268.3, 61.7], "nice": false, "zero": false}, "axis": null},
      "text": {"field": "t"},
      "color": {"field": "k", "type": "nominal", "scale": {"domain": ["in", "out"], "range": ["#1a1a1a", "#58709e"]}, "legend": null}}},
    {"data": {"name": "w6"}, "mark": {"type": "line", "interpolate": "monotone", "color": "#c0433a", "strokeWidth": 1.3},
     "encoding": {
      "x": {"field": "q", "type": "quantitative", "scale": {"domain": [0, 9000], "range": [100, 323.3], "nice": false, "zero": false}, "axis": null},
      "y": {"field": "w", "type": "quantitative", "scale": {"domain": [0, 3200], "range": [268.3, 61.7], "nice": false, "zero": false},
        "axis": {"orient": "right", "offset": -79.7, "ticks": true, "values": [0,100,200,300,400,500,600,700,800,900,1000,1100,1200,1300,1400,1500,1600,1700,1800,1900,2000,2100,2200,2300,2400,2500,2600,2700,2800,2900,3000,3100,3200], "labelExpr": "datum.value % 400 == 0 && datum.value <= 2800 ? format(datum.value, 'd') : ''", "labelColor": "#c0433a", "labelPadding": 5, "title": "W", "titleX": 16, "titleY": 63.3, "titleColor": "#c0433a", "titleFontSize": 13}}}},
    {"data": {"name": "r6"}, "mark": {"type": "text", "fontSize": 7, "angle": 8, "color": "#c0433a"},
     "encoding": {
      "x": {"field": "q", "type": "quantitative", "scale": {"domain": [0, 9000], "range": [100, 323.3], "nice": false, "zero": false}, "axis": null},
      "y": {"field": "w", "type": "quantitative", "scale": {"domain": [0, 3200], "range": [268.3, 61.7], "nice": false, "zero": false}, "axis": null},
      "text": {"field": "t"}}}
   ]}
 ], "spacing": 32}
], "spacing": 18.5}
],
"config": {
 "view": {"stroke": null},
 "font": "Liberation Sans",
 "title": {"font": "Roboto", "fontSize": 15, "fontWeight": "bold", "color": "#1e3a5f", "anchor": "middle", "frame": "group", "offset": 0},
 "axis": {"labelFont": "Liberation Sans", "labelFontSize": 11, "labelColor": "#1a1a1a", "titleFont": "Liberation Sans", "titleFontSize": 11.5, "titleFontWeight": "normal", "titleColor": "#1a1a1a", "titleAngle": 0, "titleAlign": "center", "titleBaseline": "middle", "titlePadding": 0, "labelOverlap": false, "labelFlush": false, "labelBound": false, "grid": false, "gridColor": "#3a3a3a", "gridWidth": 0.9, "gridOpacity": 1, "domain": false, "domainColor": "#3a3a3a", "domainWidth": 1, "ticks": false, "tickColor": "#3a3a3a", "tickSize": 3, "tickWidth": 1, "labelPadding": 4},
 "text": {"font": "Liberation Sans"}
}
}
